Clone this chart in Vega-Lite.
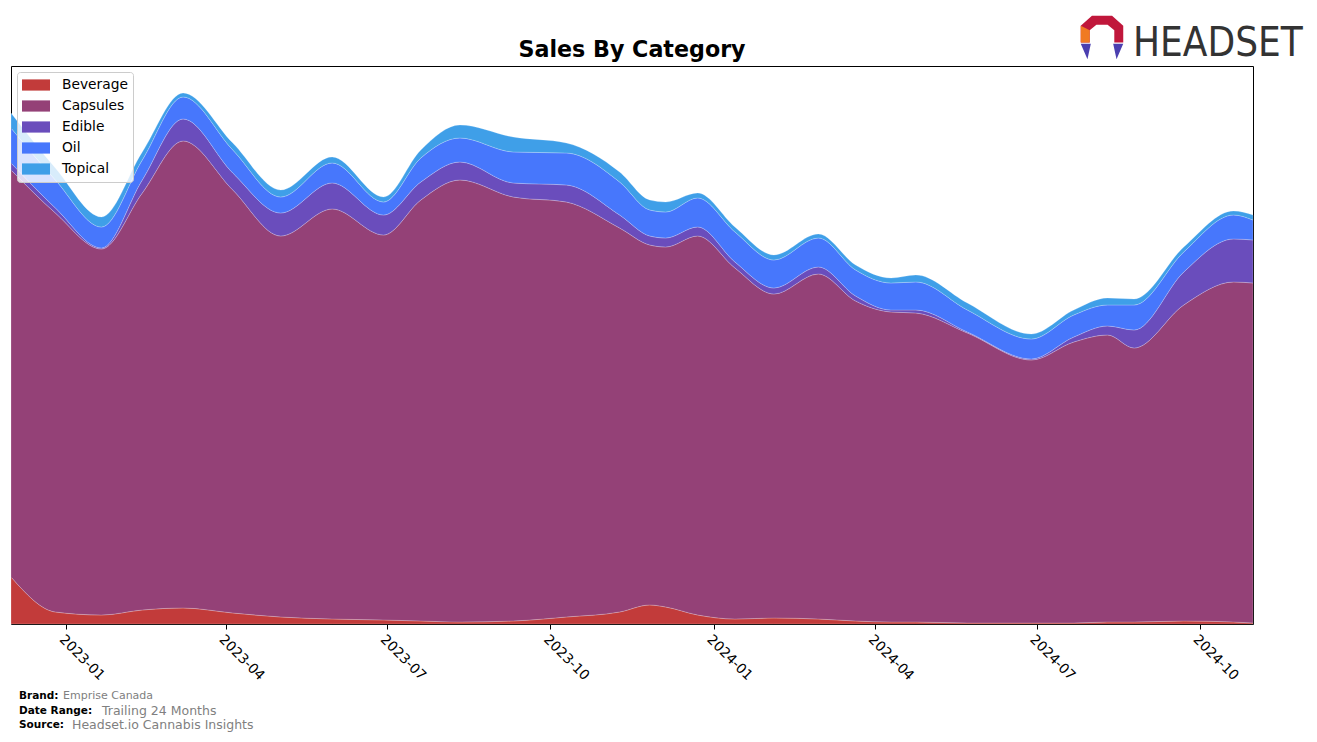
{
  "$schema": "https://vega.github.io/schema/vega-lite/v6.json",
  "width": 1242,
  "height": 558,
  "autosize": {"type": "none"},
  "padding": {"left": 11, "top": 66, "right": 64, "bottom": 118},
  "background": "white",
  "config": {
    "view": {"stroke": "#000000", "strokeWidth": 1},
    "font": "DejaVu Sans"
  },
  "datasets": {
    "sales": [
      {"date": "2022-12-01", "Beverage": 47, "Capsules": 407, "Edible": 7, "Oil": 35, "Topical": 15},
      {"date": "2022-12-26", "Beverage": 12, "Capsules": 399, "Edible": 5, "Oil": 28, "Topical": 12},
      {"date": "2023-01-21", "Beverage": 9, "Capsules": 366, "Edible": 1, "Oil": 21, "Topical": 10},
      {"date": "2023-02-13", "Beverage": 14, "Capsules": 417, "Edible": 13, "Oil": 20, "Topical": 8},
      {"date": "2023-03-08", "Beverage": 16, "Capsules": 467, "Edible": 22, "Oil": 22, "Topical": 4},
      {"date": "2023-04-05", "Beverage": 11, "Capsules": 423, "Edible": 17, "Oil": 23, "Topical": 7},
      {"date": "2023-05-02", "Beverage": 7, "Capsules": 381, "Edible": 23, "Oil": 16, "Topical": 7},
      {"date": "2023-05-31", "Beverage": 5, "Capsules": 410, "Edible": 26, "Oil": 20, "Topical": 6},
      {"date": "2023-06-29", "Beverage": 4, "Capsules": 385, "Edible": 20, "Oil": 13, "Topical": 5},
      {"date": "2023-07-20", "Beverage": 3, "Capsules": 421, "Edible": 18, "Oil": 24, "Topical": 8},
      {"date": "2023-08-11", "Beverage": 2, "Capsules": 442, "Edible": 18, "Oil": 24, "Topical": 13},
      {"date": "2023-09-10", "Beverage": 3, "Capsules": 424, "Edible": 14, "Oil": 31, "Topical": 15},
      {"date": "2023-10-10", "Beverage": 7, "Capsules": 415, "Edible": 17, "Oil": 32, "Topical": 10},
      {"date": "2023-11-09", "Beverage": 12, "Capsules": 384, "Edible": 13, "Oil": 33, "Topical": 10},
      {"date": "2023-11-26", "Beverage": 19, "Capsules": 360, "Edible": 9, "Oil": 26, "Topical": 10},
      {"date": "2023-12-05", "Beverage": 17, "Capsules": 360, "Edible": 9, "Oil": 26, "Topical": 10},
      {"date": "2023-12-23", "Beverage": 9, "Capsules": 379, "Edible": 9, "Oil": 29, "Topical": 5},
      {"date": "2024-01-13", "Beverage": 5, "Capsules": 351, "Edible": 6, "Oil": 30, "Topical": 5},
      {"date": "2024-02-04", "Beverage": 6, "Capsules": 324, "Edible": 6, "Oil": 28, "Topical": 5},
      {"date": "2024-02-29", "Beverage": 5, "Capsules": 345, "Edible": 7, "Oil": 29, "Topical": 4},
      {"date": "2024-03-21", "Beverage": 3, "Capsules": 320, "Edible": 5, "Oil": 26, "Topical": 5},
      {"date": "2024-04-10", "Beverage": 2, "Capsules": 310, "Edible": 2, "Oil": 27, "Topical": 5},
      {"date": "2024-04-24", "Beverage": 2, "Capsules": 309, "Edible": 3, "Oil": 28, "Topical": 7},
      {"date": "2024-05-23", "Beverage": 1, "Capsules": 290, "Edible": 1, "Oil": 22, "Topical": 7},
      {"date": "2024-06-28", "Beverage": 1, "Capsules": 263, "Edible": 1, "Oil": 20, "Topical": 5},
      {"date": "2024-07-22", "Beverage": 1, "Capsules": 281, "Edible": 5, "Oil": 22, "Topical": 5},
      {"date": "2024-08-10", "Beverage": 2, "Capsules": 287, "Edible": 9, "Oil": 21, "Topical": 7},
      {"date": "2024-08-25", "Beverage": 2, "Capsules": 274, "Edible": 18, "Oil": 25, "Topical": 6},
      {"date": "2024-09-22", "Beverage": 3, "Capsules": 316, "Edible": 33, "Oil": 20, "Topical": 5},
      {"date": "2024-10-20", "Beverage": 2, "Capsules": 340, "Edible": 43, "Oil": 24, "Topical": 4},
      {"date": "2024-10-31", "Beverage": 1, "Capsules": 340, "Edible": 43, "Oil": 20, "Topical": 5}
    ],
    "one": [{}]
  },
  "layer": [
    {
      "data": {"name": "sales"},
      "transform": [
        {"fold": ["Beverage", "Capsules", "Edible", "Oil", "Topical"], "as": ["category", "sales"]},
        {"calculate": "indexof(['Beverage','Capsules','Edible','Oil','Topical'], datum.category)", "as": "ord"}
      ],
      "mark": {"type": "area", "interpolate": "monotone", "stroke": "#ffffff", "strokeWidth": 0.6, "strokeOpacity": 0.35},
      "encoding": {
        "x": {
          "field": "date",
          "type": "temporal",
          "scale": {"domain": ["2022-12-01", "2024-10-31"], "nice": false},
          "axis": {
            "title": null,
            "format": "%Y-%m",
            "values": [
              {"year": 2023, "month": 1, "date": 1},
              {"year": 2023, "month": 4, "date": 1},
              {"year": 2023, "month": 7, "date": 1},
              {"year": 2023, "month": 10, "date": 1},
              {"year": 2024, "month": 1, "date": 1},
              {"year": 2024, "month": 4, "date": 1},
              {"year": 2024, "month": 7, "date": 1},
              {"year": 2024, "month": 10, "date": 1}
            ],
            "labelAngle": 45,
            "labelAlign": "left",
            "labelBaseline": "top",
            "labelFont": "DejaVu Sans",
            "labelFontSize": 13.8,
            "labelColor": "#000000",
            "labelPadding": 3,
            "tickColor": "#000000",
            "tickSize": 5,
            "domain": false,
            "grid": false,
            "labelFlush": false,
            "labelOverlap": false
          }
        },
        "y": {
          "field": "sales",
          "type": "quantitative",
          "stack": "zero",
          "scale": {"domain": [0, 558], "nice": false},
          "axis": null
        },
        "color": {
          "field": "category",
          "type": "nominal",
          "scale": {
            "domain": ["Beverage", "Capsules", "Edible", "Oil", "Topical"],
            "range": ["#c23b3a", "#944177", "#6a4dbc", "#4777fc", "#3f9fe8"]
          },
          "legend": {
            "title": null,
            "orient": "none",
            "legendX": 6,
            "legendY": 6,
            "fillColor": "rgba(255,255,255,0.8)",
            "strokeColor": "#cccccc",
            "cornerRadius": 3,
            "padding": 5,
            "symbolType": "M-1,-0.4H1V0.4H-1Z",
            "symbolSize": 784,
            "symbolStrokeWidth": 0,
            "symbolOpacity": 1,
            "labelFont": "DejaVu Sans",
            "labelFontSize": 13.8,
            "labelColor": "#000000",
            "labelOffset": 12,
            "rowPadding": 5,
            "clipHeight": 16
          }
        },
        "order": {"field": "ord", "type": "quantitative"}
      }
    },
    {
      "data": {"name": "one"},
      "mark": {"type": "text", "text": "Sales By Category", "x": 621, "y": -9, "align": "center", "baseline": "alphabetic", "font": "DejaVu Sans", "fontWeight": "bold", "fontSize": 22.2, "color": "#000000"},
      "encoding": {}
    },
    {
      "data": {"name": "one"},
      "mark": {"type": "text", "text": "Brand:", "x": 8, "y": 630, "align": "left", "baseline": "middle", "font": "DejaVu Sans", "fontWeight": "bold", "fontSize": 10.5, "color": "#000000"},
      "encoding": {}
    },
    {
      "data": {"name": "one"},
      "mark": {"type": "text", "text": "Emprise Canada", "x": 52, "y": 630, "align": "left", "baseline": "middle", "font": "DejaVu Sans", "fontSize": 11, "color": "#808080"},
      "encoding": {}
    },
    {
      "data": {"name": "one"},
      "mark": {"type": "text", "text": "Date Range:", "x": 8, "y": 645, "align": "left", "baseline": "middle", "font": "DejaVu Sans", "fontWeight": "bold", "fontSize": 10.5, "color": "#000000"},
      "encoding": {}
    },
    {
      "data": {"name": "one"},
      "mark": {"type": "text", "text": "Trailing 24 Months", "x": 91, "y": 645, "align": "left", "baseline": "middle", "font": "DejaVu Sans", "fontSize": 12.5, "color": "#808080"},
      "encoding": {}
    },
    {
      "data": {"name": "one"},
      "mark": {"type": "text", "text": "Source:", "x": 8, "y": 659, "align": "left", "baseline": "middle", "font": "DejaVu Sans", "fontWeight": "bold", "fontSize": 10.5, "color": "#000000"},
      "encoding": {}
    },
    {
      "data": {"name": "one"},
      "mark": {"type": "text", "text": "Headset.io Cannabis Insights", "x": 61, "y": 659, "align": "left", "baseline": "middle", "font": "DejaVu Sans", "fontSize": 12.5, "color": "#808080"},
      "encoding": {}
    },
    {
      "data": {"name": "one"},
      "mark": {"type": "text", "text": "HEADSET", "x": 1122, "y": -10, "align": "left", "baseline": "alphabetic", "font": "DejaVu Sans Condensed", "fontSize": 40, "color": "#333333"},
      "encoding": {}
    },
    {
      "data": {"name": "one"},
      "mark": {"type": "point", "shape": "M-0.45,-0.95 L0.45,-0.95 L0.95,-0.5 L0.95,0.25 L0.55,0.25 L0.55,-0.3 L0.25,-0.55 L-0.25,-0.55 L-0.55,-0.3 L-0.55,0.25 L-0.95,0.25 L-0.95,-0.5 Z", "x": 1091, "y": -29, "size": 2000, "filled": true, "fill": "#c0173b", "opacity": 1, "strokeWidth": 0},
      "encoding": {}
    },
    {
      "data": {"name": "one"},
      "mark": {"type": "point", "shape": "M-0.95,-0.5 L-0.55,-0.3 L-0.55,0.25 L-0.95,0.25 Z", "x": 1091, "y": -29, "size": 2000, "filled": true, "fill": "#f07a22", "opacity": 1, "strokeWidth": 0},
      "encoding": {}
    },
    {
      "data": {"name": "one"},
      "mark": {"type": "point", "shape": "M-0.95,0.3 L-0.5,0.3 L-0.65,1 Z M0.95,0.3 L0.5,0.3 L0.65,1 Z", "x": 1091, "y": -29, "size": 2000, "filled": true, "fill": "#4b3fb0", "opacity": 1, "strokeWidth": 0},
      "encoding": {}
    }
  ]
}
